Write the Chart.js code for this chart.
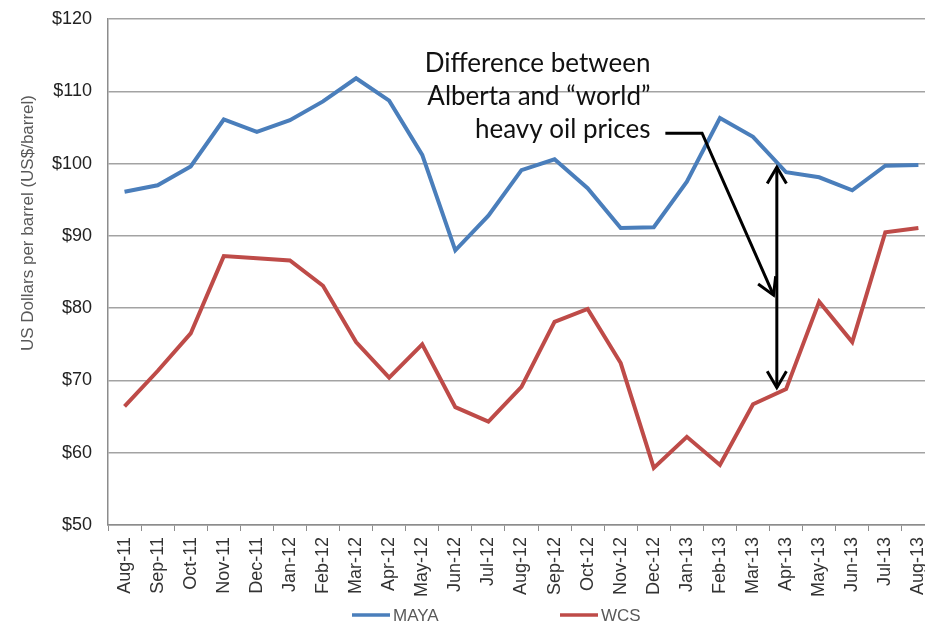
<!DOCTYPE html>
<html>
<head>
<meta charset="utf-8">
<script src="https://cdn.jsdelivr.net/npm/chart.js@4.4.1/dist/chart.umd.min.js"></script>
<style>
  html, body { margin: 0; padding: 0; background: #fff; overflow: hidden; }
  #wrap { width: 946px; height: 628px; }
</style>
</head>
<body>
<div id="wrap"><canvas id="grafico"></canvas></div>
<script>
const months = ['Aug-11', 'Sep-11', 'Oct-11', 'Nov-11', 'Dec-11', 'Jan-12', 'Feb-12', 'Mar-12', 'Apr-12',
  'May-12', 'Jun-12', 'Jul-12', 'Aug-12', 'Sep-12', 'Oct-12', 'Nov-12', 'Dec-12', 'Jan-13', 'Feb-13',
  'Mar-13', 'Apr-13', 'May-13', 'Jun-13', 'Jul-13', 'Aug-13'];

const maya = [96.1, 97.0, 99.6, 106.1, 104.4, 106.0, 108.6, 111.8, 108.7, 101.2, 88.0, 92.8, 99.1,
  100.6, 96.6, 91.1, 91.2, 97.5, 106.3, 103.7, 98.8, 98.1, 96.3, 99.7, 99.8];

const wcs = [66.4, 71.3, 76.5, 87.2, 86.9, 86.6, 83.1, 75.3, 70.4, 75.0, 66.3, 64.3, 69.1,
  78.1, 79.9, 72.4, 57.9, 62.2, 58.3, 66.7, 68.8, 80.9, 75.3, 90.5, 91.1];

const yTicks = [50, 60, 70, 80, 90, 100, 110, 120];
const yTitle = 'US Dollars per barrel (US$/barrel)';

// annotation text and arrows, in axis units (category index, price)
const noteLines = ['Difference between', 'Alberta and \u201cworld\u201d', 'heavy oil prices'];
const noteRightIndex = 15.9;
const noteBaselines = [112.7, 108.1, 103.5];
const pointerPath = [[16.35, 104.2], [17.46, 104.2], [19.62, 81.8]];
const gapArrow = { index: 19.72, top: 99.5, bottom: 69.0 };

const BLUE = '#4a7ebb';
const RED = '#be4b48';
const FONT = '"Liberation Sans", Arial';

function drawHead(ctx, fromX, fromY, toX, toY) {
  const ang = Math.atan2(toY - fromY, toX - fromX);
  const size = 19;
  ctx.beginPath();
  ctx.moveTo(toX - size * Math.cos(ang - 0.53), toY - size * Math.sin(ang - 0.53));
  ctx.lineTo(toX, toY);
  ctx.lineTo(toX - size * Math.cos(ang + 0.53), toY - size * Math.sin(ang + 0.53));
  ctx.stroke();
}

const annotationPlugin = {
  id: 'annotationArrows',
  afterDraw(chart) {
    const { ctx } = chart;
    const x = chart.scales.x;
    const y = chart.scales.y;

    ctx.save();
    ctx.fillStyle = '#111';
    ctx.font = '26px Lato';
    ctx.textAlign = 'right';
    ctx.textBaseline = 'alphabetic';
    const textRight = x.getPixelForValue(noteRightIndex);
    noteLines.forEach((linha, i) => {
      ctx.fillText(linha, textRight, y.getPixelForValue(noteBaselines[i]));
    });

    ctx.strokeStyle = '#000';
    ctx.lineWidth = 3;
    ctx.lineJoin = 'miter';
    const pts = pointerPath.map(p => [x.getPixelForValue(p[0]), y.getPixelForValue(p[1])]);
    ctx.beginPath();
    ctx.moveTo(pts[0][0], pts[0][1]);
    pts.slice(1).forEach(p => ctx.lineTo(p[0], p[1]));
    ctx.stroke();
    const n = pts.length;
    drawHead(ctx, pts[n - 2][0], pts[n - 2][1], pts[n - 1][0], pts[n - 1][1]);

    const ax = x.getPixelForValue(gapArrow.index);
    const top = y.getPixelForValue(gapArrow.top);
    const bottom = y.getPixelForValue(gapArrow.bottom);
    ctx.beginPath();
    ctx.moveTo(ax, top);
    ctx.lineTo(ax, bottom);
    ctx.stroke();
    drawHead(ctx, ax, bottom, ax, top);
    drawHead(ctx, ax, top, ax, bottom);
    ctx.restore();
  }
};

// legend and y title drawn by hand: wide legend gap, title sits above the middle
const legendPlugin = {
  id: 'bottomLegend',
  afterDraw(chart) {
    const { ctx } = chart;
    const starts = [352, 560];
    const legendY = 615;
    ctx.save();
    ctx.font = '17px ' + FONT;
    ctx.textAlign = 'left';
    ctx.textBaseline = 'middle';
    chart.data.datasets.forEach((ds, i) => {
      const lx = starts[i];
      ctx.strokeStyle = ds.borderColor;
      ctx.lineWidth = 3.5;
      ctx.beginPath();
      ctx.moveTo(lx, legendY);
      ctx.lineTo(lx + 38, legendY);
      ctx.stroke();
      ctx.fillStyle = '#595959';
      ctx.fillText(ds.label, lx + 41, legendY + 1);
    });

    ctx.translate(28, 223);
    ctx.rotate(-Math.PI / 2);
    ctx.textAlign = 'center';
    ctx.font = '17px ' + FONT;
    ctx.fillText(yTitle, 0, 0);
    ctx.restore();
  }
};

const grafico = new Chart(document.getElementById('grafico'), {
  type: 'line',
  data: {
    labels: months,
    datasets: [
      { label: 'MAYA', data: maya, borderColor: BLUE, borderWidth: 4, pointRadius: 0, tension: 0 },
      { label: 'WCS', data: wcs, borderColor: RED, borderWidth: 4, pointRadius: 0, tension: 0 }
    ]
  },
  options: {
    responsive: true,
    maintainAspectRatio: false,
    animation: false,
    devicePixelRatio: 1,
    layout: { padding: { top: 19, right: 0, bottom: 0, left: 0 } },
    plugins: {
      legend: { display: false },
      tooltip: { enabled: false }
    },
    scales: {
      x: {
        offset: true,
        grid: { display: true, drawOnChartArea: false, drawTicks: true, tickLength: 6, offset: true, color: '#8c8c8c' },
        border: { color: '#8c8c8c', width: 1.5 },
        ticks: {
          minRotation: 90,
          maxRotation: 90,
          autoSkip: false,
          padding: 6,
          color: '#333',
          font: { family: FONT, size: 18 }
        },
        afterFit: s => { s.height = 103; }
      },
      y: {
        min: yTicks[0],
        max: yTicks[yTicks.length - 1],
        grid: { color: '#a3a3a3', lineWidth: 1.5, drawTicks: false },
        border: { color: '#8c8c8c', width: 1.5 },
        ticks: {
          stepSize: yTicks[1] - yTicks[0],
          padding: 16,
          color: '#222',
          font: { family: FONT, size: 18 },
          callback: v => '$' + v
        },
        afterFit: s => {
          s.width = 108;
          s.paddingTop = 0;
          s.paddingBottom = 0;
        }
      }
    }
  },
  plugins: [annotationPlugin, legendPlugin]
});
</script>
</body>
</html>
